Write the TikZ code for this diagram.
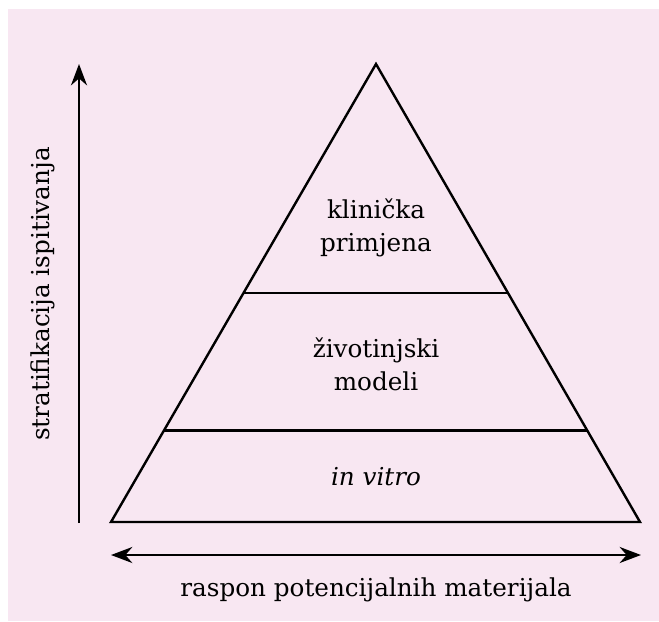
\documentclass[tikz,border=0pt]{standalone}
\usepackage{fontspec}
\setmainfont{DejaVu Serif}
\usetikzlibrary{calc,arrows.meta}
\definecolor{bgpink}{HTML}{F8E7F2}

\begin{document}
\begin{tikzpicture}[x=0.75pt,y=-0.75pt,
    layer/.style={line width=1.8pt},
    tip/.tip={Stealth[length=16pt,width=12pt]},
    axis/.style={line width=1.8pt},
    lbl/.style={font=\fontsize{18.5}{25}\selectfont,align=center}]
    \useasboundingbox (0,0) rectangle (659,621);
    \fill [white](0,0) rectangle (659,621);
    \fill [bgpink](8,9) rectangle (659,621);
    % pyramid
    \coordinate (top) at (376,64);
    \coordinate (bl) at (111,522);
    \coordinate (br) at (640,522);
    \draw [layer, line join=miter](top) -- (bl) -- (br) -- cycle;
    \draw [layer]($(top)!0.5!(bl)$) -- ($(top)!0.5!(br)$);
    \draw [layer]($(top)!0.8!(bl)$) -- ($(top)!0.8!(br)$);
    \node [lbl] (klin) at (376,228) {klinička\\primjena};
    \node [lbl] (zivot) at (376,364) {životinjski\\modeli};
    \node [lbl] (vitro) at (376,477) {\itshape in vitro};
    % axes
    \coordinate (ylo) at (79,523);
    \coordinate (yhi) at (79,64);
    \draw [axis, -tip](ylo) -- (yhi);
    \node [lbl, rotate=90] (strat) at (43,294) {stratifikacija ispitivanja};
    \coordinate (xlo) at (111,555);
    \coordinate (xhi) at (641,555);
    \draw [axis, tip-tip](xlo) -- (xhi);
    \node [lbl] (raspon) at (376,590) {raspon potencijalnih materijala};
\end{tikzpicture}
\end{document}
